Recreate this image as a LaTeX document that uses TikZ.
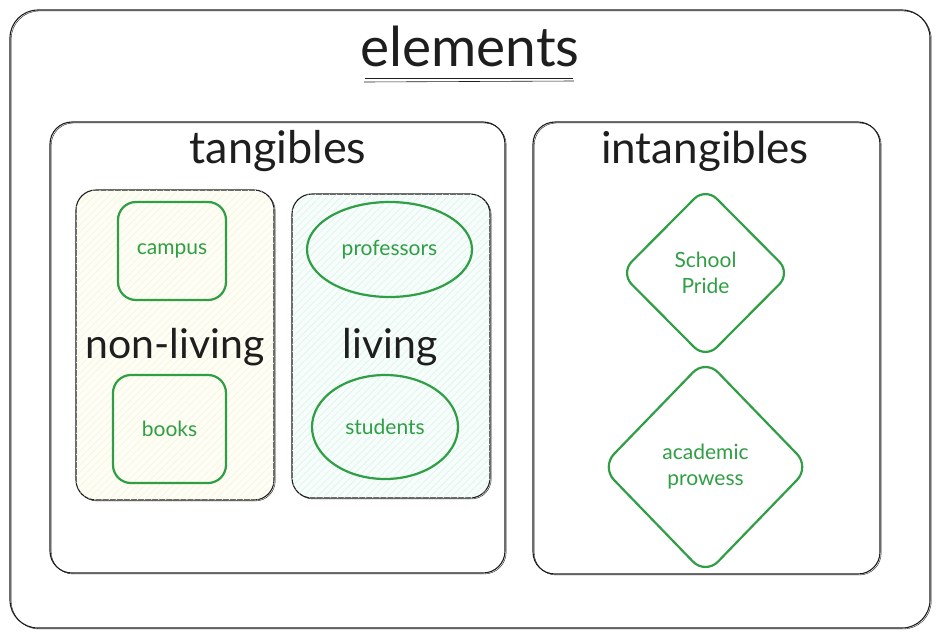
\documentclass[tikz,border=0pt]{standalone}
\usepackage{fontspec}
\setmainfont{Lato}
\usetikzlibrary{shapes.geometric,patterns.meta}
\definecolor{ink}{HTML}{1E1E1E}
\definecolor{grn}{HTML}{2F9E44}
\definecolor{ylw}{HTML}{FEFEF6}
\definecolor{ylwh}{HTML}{F4F4D6}
\definecolor{cyn}{HTML}{F6FDFB}
\definecolor{cynh}{HTML}{D8F3EC}
\begin{document}
\begin{tikzpicture}[x=1pt,y=-1pt,
  frame/.style={draw=ink, line width=1.1pt, inner sep=0pt,
    preaction={draw=ink, line width=0.4pt, transform canvas={shift={(1.2pt,-1pt)}}}},
  leaf/.style={draw=grn, line width=2.2pt, text=grn, inner sep=2pt, align=center,
    font=\fontsize{21}{26}\selectfont},
  heading/.style={text=ink, inner sep=0pt},
  hatchy/.style={fill=ylw, postaction={pattern={Lines[angle=45,distance=5pt,line width=0.5pt]}, pattern color=ylwh}},
  hatchc/.style={fill=cyn, postaction={pattern={Lines[angle=45,distance=5pt,line width=0.5pt]}, pattern color=cynh}}]
\useasboundingbox (0,0) rectangle (939,637);

% outer frame
\node[frame, rounded corners=28pt, minimum width=920pt, minimum height=618pt] (outer) at (470,319) {};
\node[heading, font=\fontsize{55}{60}\selectfont] (title) at (470,46) {elements};
\draw[ink, line width=1pt] ([shift={(-105,32)}]title.center) -- ([shift={(103,32)}]title.center);
\draw[ink, line width=0.6pt] ([shift={(-106,36)}]title.center) -- ([shift={(104,35)}]title.center);

% tangibles
\node[frame, rounded corners=22pt, minimum width=455pt, minimum height=451pt] (tang) at (277.5,347.5) {};
\node[heading, font=\fontsize{45}{50}\selectfont] (tangt) at (278,151) {tangibles};

% intangibles
\node[frame, rounded corners=22pt, minimum width=347pt, minimum height=452pt] (intang) at (706.5,348) {};
\node[heading, font=\fontsize{44}{50}\selectfont] (intangt) at (705,151) {intangibles};

% non-living
\node[frame, hatchy, rounded corners=20pt, minimum width=198pt, minimum height=310pt] (nonl) at (175,345) {};
\node[heading, font=\fontsize{41}{46}\selectfont] (nonlt) at (175,347) {non-living};
\node[leaf, rounded corners=18pt, minimum width=108pt, minimum height=98pt] (campus) at (172,251) {campus};
\node[leaf, rounded corners=18pt, minimum width=113pt, minimum height=108pt] (books) at (169.5,429) {books};

% living
\node[frame, hatchc, rounded corners=20pt, minimum width=198pt, minimum height=304pt] (liv) at (391,346) {};
\node[heading, font=\fontsize{41}{46}\selectfont] (livt) at (390,347) {living};
\node[leaf, ellipse, minimum width=165pt, minimum height=95pt] (prof) at (389.5,249.5) {professors};
\node[leaf, ellipse, minimum width=146pt, minimum height=104pt] (stud) at (385,427) {students};

% intangible items
\node[leaf, diamond, rounded corners=16pt, minimum width=171pt, minimum height=172pt, inner sep=0pt] (pride) at (705.5,273) {School\\Pride};
\node[leaf, diamond, rounded corners=18pt, minimum width=209pt, minimum height=216pt, inner sep=0pt] (acad) at (705.5,467) {academic\\prowess};
\end{tikzpicture}
\end{document}
